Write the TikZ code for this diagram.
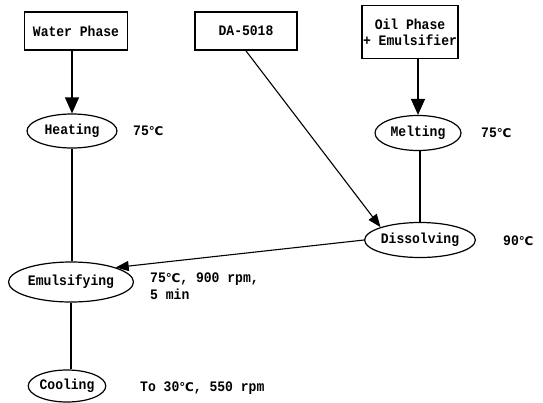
\documentclass[tikz,border=0pt]{standalone}
\usepackage{fontspec}
\setmainfont{Liberation Mono}[FakeStretch=0.9]
\newfontfamily\symf{DejaVu Sans}
\usetikzlibrary{shapes.geometric,arrows.meta}
\newcommand{\degc}{{\symf\bfseries\fontsize{12}{13}\selectfont ℃}}
\begin{document}
\begin{tikzpicture}[x=1pt,y=-1pt,
  every node/.style={font=\fontsize{14.5}{16}\selectfont\bfseries},
  srcbox/.style={draw, line width=1.8pt, inner sep=0pt, align=center},
  proc/.style={draw, ellipse, line width=1.2pt, inner sep=0pt},
  lbl/.style={inner sep=0pt, align=left},
  bigarrow/.style={line width=1.2pt, -{Triangle[length=16pt,width=14pt]}},
  diagarrow/.style={line width=1.1pt, -{Triangle[length=13pt,width=10pt]}},
  plain/.style={line width=1.2pt}]
\useasboundingbox (0,0) rectangle (543,402);
\fill[white] (0,0) rectangle (543,402);
% source boxes
\node[srcbox, minimum width=103pt, minimum height=38pt] (water) at (76,31) {Water Phase};
\node[srcbox, minimum width=102pt, minimum height=38pt] (da) at (246,31) {DA-5018};
\node[srcbox, minimum width=96pt, minimum height=53pt] (oil) at (410,32) {Oil Phase\\+ Emulsifier};
% process ellipses
\node[proc, minimum width=90pt, minimum height=34pt] (heat) at (72,131) {Heating};
\node[proc, minimum width=86pt, minimum height=35pt] (melt) at (418,133) {Melting};
\node[proc, minimum width=106pt, minimum height=35pt] (dis) at (420,240) {Dissolving};
\node[proc, minimum width=125pt, minimum height=40pt] (emu) at (71,282) {Emulsifying};
\node[proc, minimum width=74pt, minimum height=32pt] (cool) at (67,386) {Cooling};
% labels
\node[lbl, anchor=west] (l1) at (133,131) {75\degc};
\node[lbl, anchor=west] (l2) at (481,133) {75\degc};
\node[lbl, anchor=west] (l3) at (503,241) {90\degc};
\node[lbl, anchor=north west] (l4) at (150,273) {75\degc, 900 rpm,\\[1pt]5 min};
\node[lbl, anchor=west] (l5) at (140,388) {To 30\degc, 550 rpm};
% connectors
\draw[bigarrow] (water.south -| heat.north) -- (heat.north);
\draw[bigarrow] (oil.south -| melt.north) -- (melt.north);
\draw[diagarrow] (da.south) -- (dis.162);
\draw[plain] (melt.south -| dis.north) -- (dis.north);
\draw[plain] (heat.south) -- (emu.north -| heat.south);
\draw[diagarrow] (dis.west) -- (emu.18);
\draw[plain] (emu.south) -- (cool.north -| emu.south);
\end{tikzpicture}
\end{document}
